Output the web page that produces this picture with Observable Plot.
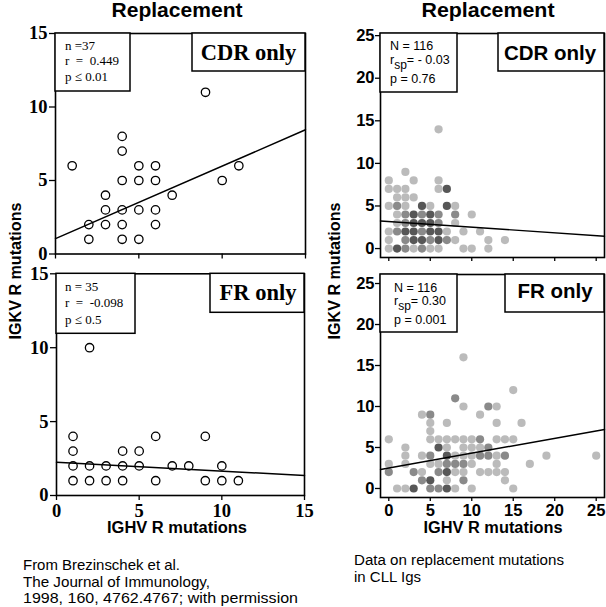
<!DOCTYPE html>
<html><head><meta charset="utf-8">
<script src="https://cdn.jsdelivr.net/npm/d3@7"></script>
<script src="https://cdn.jsdelivr.net/npm/@observablehq/plot@0.6"></script>
<style>
body{margin:0;background:#fff;}
#wrap{position:relative;width:606px;height:607px;overflow:hidden;background:#fff;}
.panel{position:absolute;}
#overlay{position:absolute;left:0;top:0;}
</style></head><body><div id="wrap"></div>
<script>
// ---- Data: left panels (Brezinschek et al.), open circles ----
const cdrLeftX = [1,2,2,3,3,3,4,4,4,4,4,4,5,5,5,5,6,6,6,6,7,9,10,11];
const cdrLeftY = [6,2,1,4,3,2,8,7,5,3,2,1,6,5,3,1,6,5,3,2,4,11,5,6];
const frLeftX = [1,1,1,1,2,2,2,3,3,4,4,4,5,5,6,6,7,8,9,9,10,10,11];
const frLeftY = [4,3,2,1,10,2,1,2,1,3,2,1,3,2,4,1,2,2,4,1,2,1,1];
const cdrLeftFitX = [0, 15];
const cdrLeftFitY = [1.05, 8.45];
const frLeftFitX = [0, 15];
const frLeftFitY = [2.25, 1.35];
const leftTicks = [0, 5, 10, 15];

// ---- Data: right panels (CLL Igs), shaded dots (1 light, 2 medium, 3 dark = overlap) ----
const cdrRightX = [0,1,2,3,4,5,6,9,10,12, 0,2,3,4,5,6,7,8,12,14, 0,1,2,3,4,5,6,7,9,11, 1,2,3,4,5,6,8, 1,2,3,4,5,6,8,10, 0,1,2,4,5,7,8, 1,2,3, 0,1,2,6,7, 0,3,6, 2, 6];
const cdrRightY = [0,0,0,0,0,0,0,0,0,0, 1,1,1,1,1,1,1,1,1,1, 2,2,2,2,2,2,2,2,2,2, 3,3,3,3,3,3,3, 4,4,4,4,4,4,4,4, 5,5,5,5,5,5,5, 6,6,6, 7,7,7,7,7, 8,8,8, 9, 14];
const cdrRightShade = [1,3,2,1,2,1,1,1,1,1, 1,2,3,3,2,3,2,1,1,1, 1,2,3,3,2,3,3,1,1,1, 1,2,3,3,3,2,1, 1,2,3,2,3,2,2,1, 1,2,1,3,1,3,1, 1,1,1, 1,1,1,1,3, 1,1,1, 1, 1];

const frRightX = [1,2,3,5,6,7,8,10,15, 4,5,7,9,14, 0,3,4,6,7,8,9,11,12,13,14, 0,2,5,6,7,8,9,10,13,17, 2,4,5,7,8,9,10,11,12,13,14,19,25, 2,6,7,9,10,11,12, 0,5,6,7,8,9,10,11,13,14,15, 5, 5,7,13,16, 4,5,11, 9,12,13, 8, 15, 9];
const frRightY = [0,0,0,0,0,0,0,0,0, 1,1,1,1,1, 2,2,2,2,2,2,2,2,2,2,2, 3,3,3,3,3,3,3,3,3,3, 4,4,4,4,4,4,4,4,4,4,4,4,4, 5,5,5,5,5,5,5, 6,6,6,6,6,6,6,6,6,6,6, 7, 8,8,8,8, 9,9,9, 10,10,10, 11, 12, 16];
const frRightShade = [1,1,3,2,2,3,1,1,1, 2,3,1,2,1, 2,2,1,2,3,1,1,1,1,1,1, 1,1,1,1,2,2,2,1,1,1, 1,1,2,3,1,1,1,2,2,1,2,1,1, 1,3,1,1,1,1,2, 1,1,1,1,1,1,1,2,1,1,1, 1, 1,1,1,1, 1,2,1, 1,2,1, 2, 1, 1];
const cdrRightFitX = [-1, 26];
const cdrRightFitY = [3.24, 1.45];
const frRightFitX = [-1, 26];
const frRightFitY = [2.32, 7.2];
const rightTicks = [0, 5, 10, 15, 20, 25];
const shadeLevels = [1, 2, 3];
const shadeColors = ["#bbbbbb", "#8a8a8a", "#575757"];

const zip = (xs, ys, ss) => xs.map((x, i) => ({x, y: ys[i], s: ss ? ss[i] : 1}));

const wrap = document.getElementById("wrap");
function place(svg, left, top) {
  const d = document.createElement("div");
  d.className = "panel";
  d.style.left = left + "px";
  d.style.top = top + "px";
  d.appendChild(svg);
  wrap.appendChild(d);
}

const serif = "'Liberation Serif', 'Times New Roman', serif";
const sans = "'Liberation Sans', Arial, Helvetica, sans-serif";

function leftPanel({height, mt, mb, ml, mr, xs, ys, fx, fy, xLabels}) {
  return Plot.plot({
    width: 310, height,
    marginLeft: ml, marginRight: mr, marginTop: mt, marginBottom: mb,
    x: {domain: [0, 15]},
    y: {domain: [0, 15]},
    style: {fontFamily: serif, fontSize: "18.5px", fontWeight: "bold", color: "black", background: "transparent", overflow: "visible"},
    marks: [
      Plot.axisY({ticks: leftTicks, tickSize: 6, tickPadding: 2, label: null, strokeWidth: 1.3}),
      Plot.axisX({ticks: leftTicks, tickSize: 5, tickPadding: 3, label: null, strokeWidth: 1.3,
        tickFormat: xLabels ? (d => String(d)) : (() => "")}),
      Plot.line(zip(fx, fy), {x: "x", y: "y", stroke: "black", strokeWidth: 1.5}),
      Plot.dot(zip(xs, ys), {x: "x", y: "y", r: 4.2, stroke: "black", strokeWidth: 1.3, fill: "none"}),
      Plot.frame({stroke: "black", strokeWidth: 1.6})
    ]
  });
}

function rightPanel({height, mt, mb, yDomain, xs, ys, ss, fx, fy, xLabels}) {
  return Plot.plot({
    width: 296, height,
    marginLeft: 70, marginRight: 2, marginTop: mt, marginBottom: mb,
    x: {domain: [-1, 26]},
    y: {domain: yDomain},
    color: {type: "ordinal", domain: shadeLevels, range: shadeColors},
    style: {fontFamily: sans, fontSize: "16.5px", fontWeight: "bold", color: "black", background: "transparent", overflow: "visible"},
    marks: [
      Plot.axisY({ticks: rightTicks, tickSize: 5, tickPadding: 1, label: null, strokeWidth: 1.3}),
      Plot.axisX({ticks: rightTicks, tickSize: 4, tickPadding: 3, label: null, strokeWidth: 1.3,
        tickFormat: xLabels ? (d => String(d)) : (() => "")}),
      Plot.dot(zip(xs, ys, ss), {x: "x", y: "y", r: 4.1, fill: "s", stroke: "none"}),
      Plot.line(zip(fx, fy), {x: "x", y: "y", stroke: "black", strokeWidth: 1.4}),
      Plot.frame({stroke: "black", strokeWidth: 1.6})
    ]
  });
}

place(leftPanel({height: 262, mt: 33, mb: 8.5, ml: 55, mr: 5, xs: cdrLeftX, ys: cdrLeftY, fx: cdrLeftFitX, fy: cdrLeftFitY, xLabels: false}), 0, 0);
place(leftPanel({height: 258, mt: 11.3, mb: 25, ml: 56, mr: 6, xs: frLeftX, ys: frLeftY, fx: frLeftFitX, fy: frLeftFitY, xLabels: true}), 0, 262);
place(rightPanel({height: 262, mt: 33, mb: 5, yDomain: [-1.05, 25.25], xs: cdrRightX, ys: cdrRightY, ss: cdrRightShade, fx: cdrRightFitX, fy: cdrRightFitY, xLabels: false}), 310, 0);
place(rightPanel({height: 258, mt: 12, mb: 23, yDomain: [-1.1, 26.1], xs: frRightX, ys: frRightY, ss: frRightShade, fx: frRightFitX, fy: frRightFitY, xLabels: true}), 310, 262);

// ---- Text overlay: titles, axis titles, stats boxes, captions ----
const NS = "http://www.w3.org/2000/svg";
const ov = document.createElementNS(NS, "svg");
ov.setAttribute("id", "overlay");
ov.setAttribute("width", 606);
ov.setAttribute("height", 607);
ov.innerHTML = `
<g font-family="${sans}" font-weight="bold" font-size="20" text-anchor="middle" fill="black">
  <text x="177" y="17" textLength="131" lengthAdjust="spacingAndGlyphs">Replacement</text>
  <text x="488" y="17" textLength="133" lengthAdjust="spacingAndGlyphs">Replacement</text>
</g>
<g font-family="${sans}" font-weight="bold" font-size="16" text-anchor="middle" fill="black">
  <text x="177" y="533" textLength="140" lengthAdjust="spacingAndGlyphs">IGHV R mutations</text>
  <text x="493" y="533" textLength="139" lengthAdjust="spacingAndGlyphs">IGHV R mutations</text>
  <text transform="translate(21,271) rotate(-90)" textLength="137" lengthAdjust="spacingAndGlyphs">IGKV R mutations</text>
  <text transform="translate(340,271) rotate(-90)" textLength="137" lengthAdjust="spacingAndGlyphs">IGKV R mutations</text>
</g>
<g fill="white" stroke="black" stroke-width="1.5">
  <rect x="55" y="33" width="75" height="58"/>
  <rect x="192" y="33" width="113" height="38"/>
  <rect x="56" y="273.3" width="79" height="60"/>
  <rect x="210" y="273.3" width="94" height="39"/>
  <rect x="380" y="33" width="77" height="59"/>
  <rect x="498" y="33" width="106" height="38"/>
  <rect x="380" y="274" width="77" height="58"/>
  <rect x="505" y="274" width="99" height="38"/>
</g>
<g font-family="${serif}" font-size="13" fill="black">
  <text x="65" y="50">n =37</text>
  <text x="65" y="65">r&#160;&#160;=&#160;&#160;0.449</text>
  <text x="65" y="81">p ≤ 0.01</text>
  <text x="65" y="291">n = 35</text>
  <text x="65" y="307">r&#160;&#160;=&#160;&#160;-0.098</text>
  <text x="65" y="324">p ≤ 0.5</text>
</g>
<g font-family="${serif}" font-weight="bold" font-size="22.5" text-anchor="middle" fill="black">
  <text x="248.5" y="60">CDR only</text>
  <text x="258" y="300">FR only</text>
</g>
<g font-family="${sans}" font-weight="bold" font-size="20.5" text-anchor="middle" fill="black">
  <text x="550" y="60">CDR only</text>
  <text x="555" y="298">FR only</text>
</g>
<g font-family="${sans}" font-size="12.5" fill="black">
  <text x="390" y="50">N = 116</text>
  <text x="390" y="64">r<tspan dy="4.5" font-size="12">sp</tspan><tspan dy="-4.5">= - 0.03</tspan></text>
  <text x="390" y="83">p = 0.76</text>
  <text x="394" y="292">N = 116</text>
  <text x="394" y="305">r<tspan dy="4.5" font-size="12">sp</tspan><tspan dy="-4.5">= 0.30</tspan></text>
  <text x="394" y="324">p = 0.001</text>
</g>
<g font-family="${sans}" font-size="14.5" fill="black">
  <text x="23" y="570" textLength="157" lengthAdjust="spacingAndGlyphs">From Brezinschek et al.</text>
  <text x="23" y="587" textLength="187" lengthAdjust="spacingAndGlyphs">The Journal of Immunology,</text>
  <text x="23" y="603" textLength="275" lengthAdjust="spacingAndGlyphs">1998, 160, 4762.4767; with permission</text>
  <text x="354" y="565" font-size="14" textLength="210" lengthAdjust="spacingAndGlyphs">Data on replacement mutations</text>
  <text x="354" y="582" font-size="14" textLength="67" lengthAdjust="spacingAndGlyphs">in CLL Igs</text>
</g>`;
wrap.appendChild(ov);
</script>
</body></html>
